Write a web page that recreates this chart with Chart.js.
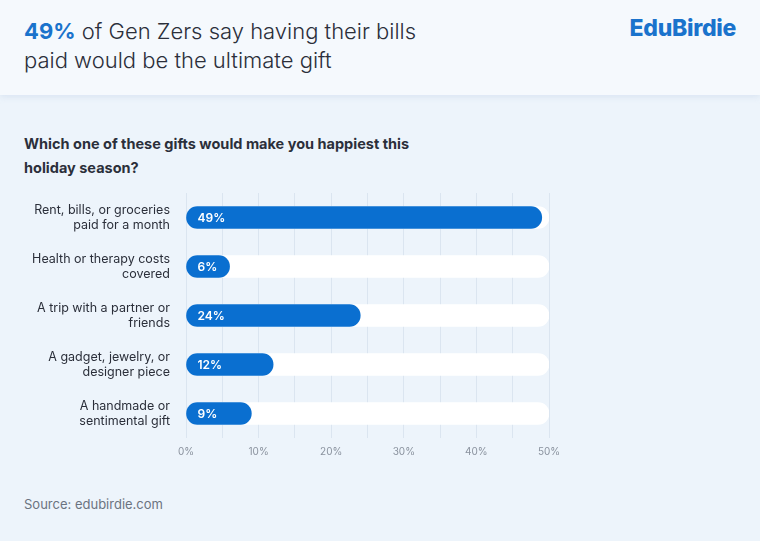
<!DOCTYPE html>
<html>
<head>
<meta charset="utf-8">
<script src="https://cdn.jsdelivr.net/npm/chart.js@4"></script>
<style>
  body { margin: 0; width: 760px; height: 541px; background: #edf4fb; font-family: Inter, "Noto Sans", sans-serif; position: relative; overflow: hidden; }
  .head { position: absolute; left: 0; top: 0; width: 760px; height: 95px; background: #f5f9fd; box-shadow: 0 2px 6px rgba(180,200,225,0.35); }
  .title { position: absolute; left: 24px; top: 17px; font-size: 22px; line-height: 29px; color: #2b2f3a; font-weight: 300; }
  .title b { color: #1a73cc; font-weight: 700; }
  .logo { position: absolute; right: 24px; top: 14px; font-size: 23px; font-weight: 800; color: #1a73cc; letter-spacing: -0.3px; }
  .q { position: absolute; left: 24px; top: 132px; font-size: 14.5px; line-height: 24px; font-weight: 700; color: #2b2f3a; }
  .src { position: absolute; left: 24px; top: 496px; font-size: 13px; color: #6b7380; }
  #chart { position: absolute; left: 0; top: 170px; }
</style>
</head>
<body>
<div class="head">
  <div class="title"><b>49%</b> of Gen Zers say having their bills<br>paid would be the ultimate gift</div>
  <div class="logo">EduBirdie</div>
</div>
<div class="q">Which one of these gifts would make you happiest this<br>holiday season?</div>
<canvas id="chart" width="600" height="296"></canvas>
<div class="src">Source: edubirdie.com</div>
<script>
const categories = [
  ['Rent, bills, or groceries', 'paid for a month'],
  ['Health or therapy costs', 'covered'],
  ['A trip with a partner or', 'friends'],
  ['A gadget, jewelry, or', 'designer piece'],
  ['A handmade or', 'sentimental gift']
];
const shares = [49, 6, 24, 12, 9];
const trackMax = [50, 50, 50, 50, 50];

// draw the "49%" style labels inside each bar
const valueLabels = {
  id: 'valueLabels',
  afterDatasetsDraw(chart) {
    const ctx = chart.ctx;
    const meta = chart.getDatasetMeta(1);
    ctx.save();
    ctx.font = '600 12px Inter, "Noto Sans", sans-serif';
    ctx.fillStyle = '#ffffff';
    ctx.textBaseline = 'middle';
    meta.data.forEach((bar, i) => {
      ctx.fillText(shares[i] + '%', bar.base + 11, bar.y + 1);
    });
    ctx.restore();
  }
};

new Chart(document.getElementById('chart').getContext('2d'), {
  type: 'bar',
  data: {
    labels: categories,
    datasets: [
      { data: trackMax, backgroundColor: '#ffffff', borderRadius: 11, borderSkipped: false, barThickness: 22, grouped: false, order: 2 },
      { data: shares, backgroundColor: '#0a6fd0', borderRadius: 11, borderSkipped: false, barThickness: 22, grouped: false, order: 1 }
    ]
  },
  options: {
    indexAxis: 'y',
    responsive: false,
    animation: false,
    devicePixelRatio: 1,
    layout: { padding: { top: 3, right: 51, bottom: 0, left: 0 } },
    plugins: { legend: { display: false }, tooltip: { enabled: false } },
    scales: {
      x: {
        min: 0, max: 50,
        ticks: {
          stepSize: 5,
          color: '#8a929e',
          font: { size: 10, family: 'Inter, "Noto Sans", sans-serif' },
          padding: 8,
          callback: v => (v % 10 === 0 ? v + '%' : '')
        },
        grid: { color: '#dbe5f0', drawTicks: false },
        border: { display: false }
      },
      y: {
        afterFit: s => { s.width = 186; },
        ticks: {
          color: '#2b2f3a',
          font: { size: 12.5, family: 'Inter, "Noto Sans", sans-serif' },
          padding: 8
        },
        grid: { display: false },
        border: { display: false }
      }
    }
  },
  plugins: [valueLabels]
});
</script>
</body>
</html>
